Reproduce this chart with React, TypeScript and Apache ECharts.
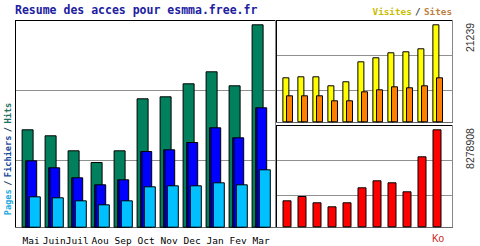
import React, { useEffect, useRef } from "react";
import * as echarts from "echarts";

const MONTHS = ["Mai", "Juin", "Juil", "Aou", "Sep", "Oct", "Nov", "Dec", "Jan", "Fev", "Mar"];
const HITS = [98400, 92400, 77400, 65700, 77400, 129400, 131400, 144400, 156400, 142400, 203400];
const FILES = [67400, 60400, 50400, 43400, 48400, 76700, 78400, 85700, 100400, 90400, 120400];
const PAGES = [31400, 30400, 27400, 23400, 27400, 41400, 42400, 42400, 45400, 43400, 58400];
const VISITS = [9750, 9970, 9970, 8020, 8890, 13220, 14090, 15170, 15390, 16040, 21239];
const SITES = [5850, 5850, 5850, 4770, 4770, 6720, 7150, 7800, 7590, 8020, 9750];
const KBYTES = [2281000, 2644000, 2112000, 1774000, 2112000, 3379000, 3970000, 3801000, 3041000, 5998000, 8278908];
const MAX_VISITS_LABEL = "21239";
const MAX_KB_LABEL = "8278908";

const line = (x1: number, y1: number, x2: number, y2: number, stroke: string) => ({
  type: "line",
  silent: true,
  z: 0,
  shape: { x1, y1, x2, y2 },
  style: { stroke, lineWidth: 1 },
});

export default function App() {
  const ref = useRef<HTMLDivElement>(null);
  useEffect(() => {
    if (!ref.current) return;
    const chart = echarts.init(ref.current, null, { renderer: "svg" });
    const hidden = { show: false };
    const catAxis = (gridIndex: number, showLabels: boolean) => ({
      type: "category",
      gridIndex,
      data: MONTHS,
      axisLine: hidden,
      axisTick: hidden,
      axisLabel: showLabels
        ? { show: true, margin: 8, fontFamily: "DejaVu Sans Mono", fontSize: 9.5, color: "#000", interval: 0 }
        : hidden,
    });
    const valAxis = (gridIndex: number, max: number) => ({
      type: "value",
      gridIndex,
      min: 0,
      max,
      axisLine: hidden,
      axisTick: hidden,
      axisLabel: hidden,
      splitLine: hidden,
    });
    const border = { borderColor: "#000", borderWidth: 1 };
    const filesColor = new echarts.graphic.LinearGradient(0, 0, 1, 0, [
      { offset: 0, color: "#00008b" },
      { offset: 0.2, color: "#00008b" },
      { offset: 0.2, color: "#0000ff" },
      { offset: 1, color: "#0000ff" },
    ]);
    chart.setOption({
      animation: false,
      backgroundColor: "#fff",
      grid: [
        { left: 19.7, top: 20, width: 253, height: 207.7 },
        { left: 280.2, top: 20, width: 165, height: 102.3 },
        { left: 279.5, top: 125.7, width: 165, height: 101.6 },
      ],
      xAxis: [catAxis(0, true), catAxis(1, false), catAxis(2, false)],
      yAxis: [valAxis(0, 207700), valAxis(1, 22171), valAxis(2, 8583030)],
      series: [
        { type: "bar", name: "Hits", xAxisIndex: 0, yAxisIndex: 0, data: HITS, barWidth: 12, barGap: "-70%", itemStyle: { color: "#00805c", ...border } },
        { type: "bar", name: "Fichiers", xAxisIndex: 0, yAxisIndex: 0, data: FILES, barWidth: 12, barGap: "-70%", itemStyle: { color: filesColor, ...border } },
        { type: "bar", name: "Pages", xAxisIndex: 0, yAxisIndex: 0, data: PAGES, barWidth: 12, barGap: "-70%", itemStyle: { color: "#00c0ff", ...border } },
        { type: "bar", name: "Visites", xAxisIndex: 1, yAxisIndex: 1, data: VISITS, barWidth: 7, barGap: "-48%", itemStyle: { color: "#ffff00", ...border } },
        { type: "bar", name: "Sites", xAxisIndex: 1, yAxisIndex: 1, data: SITES, barWidth: 7, barGap: "-48%", itemStyle: { color: "#ff8000", ...border } },
        { type: "bar", name: "Ko", xAxisIndex: 2, yAxisIndex: 2, data: KBYTES, barWidth: 9, itemStyle: { color: "#ff0000", ...border } },
      ],
      graphic: [
        line(15, 90.5, 275, 90.5, "#909090"),
        line(15, 160.5, 275, 160.5, "#909090"),
        line(277, 55.5, 452, 55.5, "#909090"),
        line(277, 90.5, 452, 90.5, "#909090"),
        line(277, 160.5, 452, 160.5, "#909090"),
        line(277, 195.5, 452, 195.5, "#909090"),
        line(15, 20.5, 276, 20.5, "#000"),
        line(15.5, 20, 15.5, 228, "#000"),
        line(275.5, 20, 275.5, 228, "#888"),
        line(15, 227.5, 276, 227.5, "#666"),
        line(276, 20.5, 453, 20.5, "#000"),
        line(276.5, 20, 276.5, 123, "#000"),
        line(452.5, 20, 452.5, 123, "#888"),
        line(276, 122.5, 453, 122.5, "#666"),
        line(276, 125.5, 453, 125.5, "#000"),
        line(276.5, 125, 276.5, 228, "#000"),
        line(452.5, 125, 452.5, 228, "#888"),
        line(276, 227.5, 453, 227.5, "#666"),
        {
          type: "text",
          x: 15,
          y: 4,
          style: {
            text: "Resume des acces pour esmma.free.fr",
            fill: "#2020a0",
            font: "bold 11.5px 'DejaVu Sans Mono'",
            textVerticalAlign: "top",
          },
        },
        {
          type: "text",
          x: 452,
          y: 11,
          style: {
            text: "{v|Visites} {s|/} {t|Sites}",
            align: "right",
            verticalAlign: "middle",
            rich: {
              v: { fill: "#c8c000", font: "bold 9.3px 'DejaVu Sans Mono'" },
              s: { fill: "#404040", font: "bold 9.3px 'DejaVu Sans Mono'" },
              t: { fill: "#c08040", font: "bold 9.3px 'DejaVu Sans Mono'" },
            },
          },
        },
        {
          type: "text",
          x: 470,
          y: 37.5,
          rotation: Math.PI / 2,
          style: {
            text: MAX_VISITS_LABEL,
            fill: "#333",
            font: "10.5px 'Liberation Sans'",
            align: "center",
            verticalAlign: "middle",
          },
        },
        {
          type: "text",
          x: 470,
          y: 148.5,
          rotation: Math.PI / 2,
          style: {
            text: MAX_KB_LABEL,
            fill: "#333",
            font: "10.5px 'Liberation Sans'",
            align: "center",
            verticalAlign: "middle",
          },
        },
        {
          type: "text",
          x: 438,
          y: 238,
          style: {
            text: "Ko",
            fill: "#cc2020",
            font: "10px 'Liberation Sans'",
            align: "center",
            verticalAlign: "middle",
          },
        },
        {
          type: "text",
          x: 8,
          y: 159,
          rotation: Math.PI / 2,
          style: {
            text: "{p|Pages} {d|/} {f|Fichiers} {d|/} {h|Hits}",
            align: "center",
            verticalAlign: "middle",
            rich: {
              p: { fill: "#20a8e0", font: "bold 8.7px 'DejaVu Sans Mono'" },
              d: { fill: "#204060", font: "bold 8.7px 'DejaVu Sans Mono'" },
              f: { fill: "#1a4a9a", font: "bold 8.7px 'DejaVu Sans Mono'" },
              h: { fill: "#207060", font: "bold 8.7px 'DejaVu Sans Mono'" },
            },
          },
        },
      ],
    });
    return () => chart.dispose();
  }, []);
  return (
    <div
      ref={ref}
      style={{ position: "fixed", left: 0, top: 0, width: 480, height: 246, background: "#fff" }}
    />
  );
}
